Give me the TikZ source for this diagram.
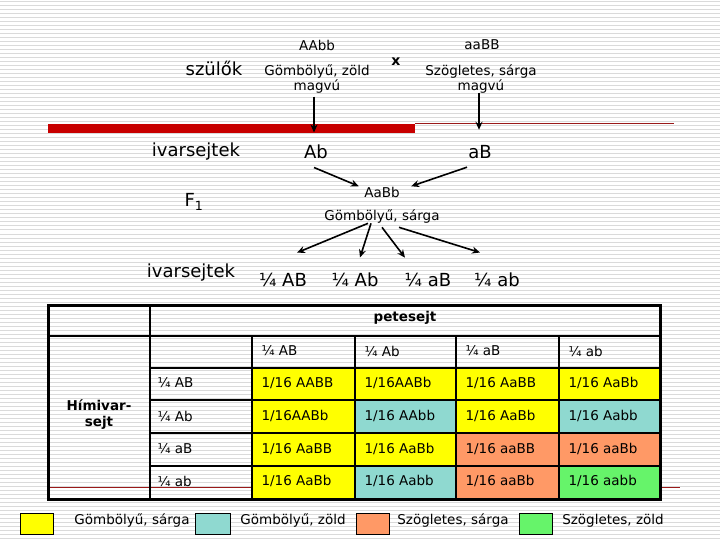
\documentclass[tikz,border=0pt]{standalone}
\usepackage{fontspec}
\setmainfont{DejaVu Sans}
\usetikzlibrary{arrows.meta}
\definecolor{cellyellow}{HTML}{FFFF00}
\definecolor{cellteal}{HTML}{8FD9D0}
\definecolor{cellorange}{HTML}{FF9966}
\definecolor{cellgreen}{HTML}{66F46A}
\definecolor{barred}{HTML}{C80000}
\definecolor{linered}{HTML}{9A1A1A}
\definecolor{stripe}{HTML}{DADADA}
\tikzset{
    big/.style={font=\fontsize{18}{20}\selectfont},
    small/.style={font=\fontsize{13.5}{14.5}\selectfont},
    cell/.style={font=\fontsize{13.5}{14.5}\selectfont, anchor=west},
    arr/.style={->, line width=1.6pt},
    legendbox/.style={draw=black, line width=0.8pt}
}
\begin{document}
\begin{tikzpicture}[x=1pt, y=-1pt, >={Stealth[length=8pt,width=7pt]}]
    \useasboundingbox (0,0) rectangle (720,540);
    \fill[white] (0,0) rectangle (720,540);
    
    % striped slide background
    \foreach \y in {2,6,...,538}
    {
        \draw[stripe, line width=1pt] (0,\y) -- (720,\y);
    }
    
    % red bar and thin lines
    \fill[barred] (48,124) rectangle (415,133);
    \draw[linered, line width=1pt] (415,124) -- (674,124);
    \draw[linered, line width=1pt] (48,487) -- (680,487);
    
    % parents
    \node[big] (szulok) at (214,68) {szülők};
    \node[small] (pone) at (317,45) {AAbb};
    \node[small, align=center] (ponetxt) at (317,79) {Gömbölyű, zöld\\magvú};
    \node[font=\bfseries\fontsize{14}{15}\selectfont] (cross) at (396,62) {x};
    \node[small] (ptwo) at (482,45) {aaBB};
    \node[small, align=center] (ptwotxt) at (481,79) {Szögletes, sárga\\magvú};
    
    % gametes of the parents
    \node[big] (ivarone) at (196,152) {ivarsejtek};
    \node[big] (gAb) at (316,152) {Ab};
    \node[big] (gaB) at (480,152) {aB};
    \draw[arr] ([xshift=-3pt]ponetxt.south) -- ([xshift=-2pt,yshift=9pt]gAb.north);
    \draw[arr] ([xshift=-2pt,yshift=4pt]ptwotxt.south) -- ([xshift=-1pt,yshift=12pt]gaB.north);
    
    % F1
    \node[big] (fone) at (194,202) {F\textsubscript{1}};
    \node[small] (fgeno) at (382,192) {AaBb};
    \node[small] (fpheno) at (382,217) {Gömbölyű, sárga};
    \draw[arr] ([xshift=-2pt,yshift=-5pt]gAb.south) -- ([xshift=-2pt,yshift=-3pt]fgeno.north west);
    \draw[arr] ([xshift=-13pt,yshift=-5pt]gaB.south) -- ([xshift=8pt,yshift=-3pt]fgeno.north east);
    
    % gametes of F1
    \node[big] (ivartwo) at (191,273) {ivarsejtek};
    \node[big] (hAB) at (283,280) {¼ AB};
    \node[big] (hAb) at (355,280) {¼ Ab};
    \node[big] (haB) at (428,280) {¼ aB};
    \node[big] (hab) at (497,280) {¼ ab};
    \draw[arr] ([xshift=-14pt,yshift=4pt]fpheno.south) -- ([xshift=14pt,yshift=17pt]hAB.north);
    \draw[arr] ([xshift=-11pt,yshift=4pt]fpheno.south) -- ([xshift=5pt,yshift=12pt]hAb.north);
    \draw[arr] ([xshift=0pt,yshift=0pt]fpheno.south) -- ([xshift=-23pt,yshift=12pt]haB.north);
    \draw[arr] ([xshift=17pt,yshift=0pt]fpheno.south) -- ([xshift=-17pt,yshift=17pt]hab.north);
    
    % cell colours
    \foreach \ya/\yb/\cA/\cB/\cC/\cD in {368/400/cellyellow/cellyellow/cellyellow/cellyellow,
        400/433/cellyellow/cellteal/cellyellow/cellteal,
        433/466/cellyellow/cellyellow/cellorange/cellorange,
        466/499/cellyellow/cellteal/cellorange/cellgreen}
    {
        \fill[\cA] (252,\ya) rectangle (355,\yb);
        \fill[\cB] (355,\ya) rectangle (456,\yb);
        \fill[\cC] (456,\ya) rectangle (559,\yb);
        \fill[\cD] (559,\ya) rectangle (660,\yb);
    }
    
    % table lines
    \draw[line width=2pt] (48,336) -- (660,336);
    \foreach \y in {368,400,433,466}
    {
        \draw[line width=2pt] (150,\y) -- (660,\y);
    }
    \draw[line width=2pt] (150,305) -- (150,499);
    \foreach \x in {252,355,456,559}
    {
        \draw[line width=2pt] (\x,336) -- (\x,499);
    }
    \draw[line width=3pt] (48,305) rectangle (660,499);
    
    % table texts
    \node[small, font=\bfseries\fontsize{13.5}{14.5}\selectfont] (pete) at (405,318) {petesejt};
    \node[small, font=\bfseries\fontsize{13.5}{16}\selectfont, align=center] (himi) at (99,415) {Hímivar-\\sejt};
    \node[cell] (tAB) at (258,351) {¼ AB};
    \node[cell] (tAb) at (361,351) {¼ Ab};
    \node[cell] (taB) at (462,351) {¼ aB};
    \node[cell] (tab) at (565,351) {¼ ab};
    \node[cell] (sAB) at (154,383) {¼ AB};
    \node[cell] (sAb) at (154,416) {¼ Ab};
    \node[cell] (saB) at (154,449) {¼ aB};
    \node[cell] (sab) at (154,481) {¼ ab};
    
    \node[cell] (c11) at (258,383) {1/16 AABB};
    \node[cell] (c12) at (361,383) {1/16AABb};
    \node[cell] (c13) at (462,383) {1/16 AaBB};
    \node[cell] (c14) at (565,383) {1/16 AaBb};
    \node[cell] (c21) at (258,416) {1/16AABb};
    \node[cell] (c22) at (361,416) {1/16 AAbb};
    \node[cell] (c23) at (462,416) {1/16 AaBb};
    \node[cell] (c24) at (565,416) {1/16 Aabb};
    \node[cell] (c31) at (258,449) {1/16 AaBB};
    \node[cell] (c32) at (361,449) {1/16 AaBb};
    \node[cell] (c33) at (462,449) {1/16 aaBB};
    \node[cell] (c34) at (565,449) {1/16 aaBb};
    \node[cell] (c41) at (258,481) {1/16 AaBb};
    \node[cell] (c42) at (361,481) {1/16 Aabb};
    \node[cell] (c43) at (462,481) {1/16 aaBb};
    \node[cell] (c44) at (565,481) {1/16 aabb};
    
    % legend
    \filldraw[legendbox, fill=cellyellow] (20,513) rectangle (53,534);
    \node[small] (lone) at (132,521) {Gömbölyű, sárga};
    \filldraw[legendbox, fill=cellteal] (195,513) rectangle (230,534);
    \node[small] (ltwo) at (293,521) {Gömbölyű, zöld};
    \filldraw[legendbox, fill=cellorange] (356,513) rectangle (389,534);
    \node[small] (lthree) at (453,521) {Szögletes, sárga};
    \filldraw[legendbox, fill=cellgreen] (519,513) rectangle (552,534);
    \node[small] (lfour) at (613,521) {Szögletes, zöld};
    
\end{tikzpicture}
\end{document}
